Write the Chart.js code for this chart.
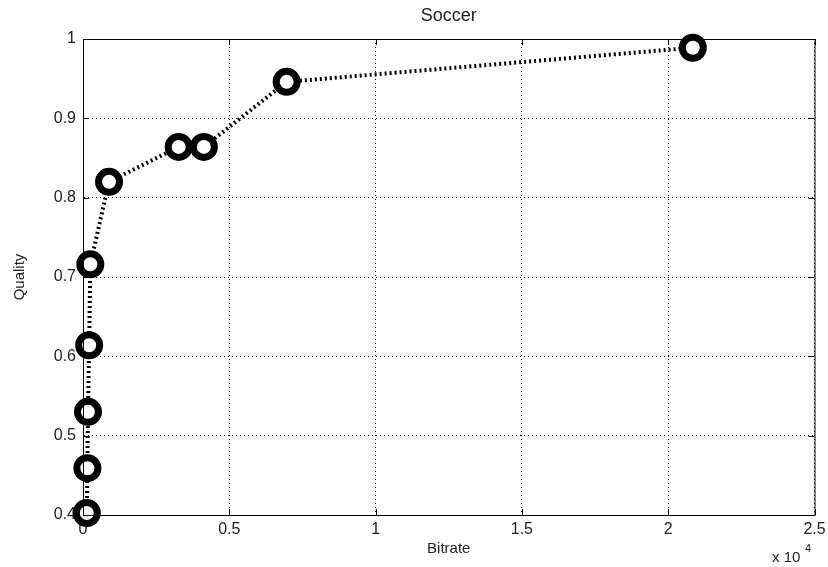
<!DOCTYPE html>
<html>
<head>
<meta charset="utf-8">
<script src="https://cdn.jsdelivr.net/npm/chart.js@4/dist/chart.umd.min.js"></script>
<style>
html,body{margin:0;padding:0;background:#fff;overflow:hidden;}
#wrap{width:828px;height:567px;overflow:hidden;}
</style>
</head>
<body>
<div id="wrap"><canvas id="c" width="832" height="567"></canvas></div>
<script>
const chartTitle = "Soccer";
const xLabel = "Bitrate";
const yLabel = "Quality";
const bitrate = [130, 150, 170, 210, 250, 890, 3270, 4130, 6960, 20840];
const quality = [0.4025, 0.459, 0.530, 0.614, 0.716, 0.820, 0.864, 0.864, 0.946, 0.989];
const xTicks = [0, 5000, 10000, 15000, 20000, 25000];
const yTicks = [0.4, 0.5, 0.6, 0.7, 0.8, 0.9, 1.0];

const points = bitrate.map((b, i) => ({x: b, y: quality[i]}));
const FONT = "'Liberation Sans', Arial, sans-serif";

const decor = {
  id: 'decor',
  afterDraw(chart) {
    const ctx = chart.ctx, a = chart.chartArea;
    const xs = chart.scales.x, ys = chart.scales.y;
    ctx.save();
    ctx.strokeStyle = '#000';
    ctx.lineWidth = 1;
    ctx.strokeRect(a.left + 0.5, a.top + 0.5, a.right - a.left, a.bottom - a.top);
    ctx.beginPath();
    xTicks.forEach(v => {
      const px = Math.round(xs.getPixelForValue(v)) + 0.5;
      ctx.moveTo(px, a.bottom); ctx.lineTo(px, a.bottom - 6);
      ctx.moveTo(px, a.top); ctx.lineTo(px, a.top + 6);
    });
    yTicks.forEach(v => {
      const py = Math.round(ys.getPixelForValue(v)) + 0.5;
      ctx.moveTo(a.left, py); ctx.lineTo(a.left + 6, py);
      ctx.moveTo(a.right, py); ctx.lineTo(a.right - 6, py);
    });
    ctx.stroke();
    ctx.fillStyle = '#222';
    ctx.textAlign = 'center';
    ctx.textBaseline = 'middle';
    ctx.font = "18px " + FONT;
    ctx.fillText(chartTitle, (a.left + a.right) / 2, 16);
    ctx.font = "15px " + FONT;
    ctx.fillText(xLabel, (a.left + a.right) / 2, 549);
    ctx.save();
    ctx.translate(20, (a.top + a.bottom) / 2);
    ctx.rotate(-Math.PI / 2);
    ctx.fillText(yLabel, 0, 0);
    ctx.restore();
    ctx.textAlign = 'left';
    ctx.textBaseline = 'alphabetic';
    ctx.font = "15px " + FONT;
    ctx.fillText("x 10", 772, 562);
    ctx.font = "11px " + FONT;
    ctx.fillText("4", 805, 552);
    ctx.restore();
  }
};

new Chart(document.getElementById('c'), {
  type: 'line',
  data: {
    datasets: [{
      data: points,
      borderColor: '#000',
      borderWidth: 4,
      borderDash: [2, 3],
      pointRadius: 10.5,
      pointBorderWidth: 7,
      pointBorderColor: '#000',
      pointBackgroundColor: '#fff',
      tension: 0,
      clip: false
    }]
  },
  options: {
    responsive: false,
    animation: false,
    events: [],
    layout: { padding: { top: 39, right: 16, left: 0, bottom: 0 } },
    plugins: { legend: { display: false }, tooltip: { enabled: false }, title: { display: false } },
    scales: {
      x: {
        type: 'linear', min: 0, max: 25000,
        afterBuildTicks: s => { s.ticks = xTicks.map(v => ({value: v})); },
        afterFit: s => { s.height = 52; },
        ticks: { callback: v => String(v / 10000), color: '#222', font: { family: FONT, size: 16 }, padding: 5, maxRotation: 0 },
        grid: { color: '#000', lineWidth: 1, tickLength: 0, drawTicks: false },
        border: { display: true, color: '#000', dash: [1, 3] }
      },
      y: {
        type: 'linear', min: 0.4, max: 1,
        afterBuildTicks: s => { s.ticks = yTicks.map(v => ({value: v})); },
        afterFit: s => { s.width = 83; },
        ticks: { callback: v => String(Math.round(v * 10) / 10), color: '#222', font: { family: FONT, size: 16 }, padding: 7 },
        grid: { color: '#000', lineWidth: 1, tickLength: 0, drawTicks: false },
        border: { display: true, color: '#000', dash: [1, 3] }
      }
    }
  },
  plugins: [decor]
});
</script>
</body>
</html>
